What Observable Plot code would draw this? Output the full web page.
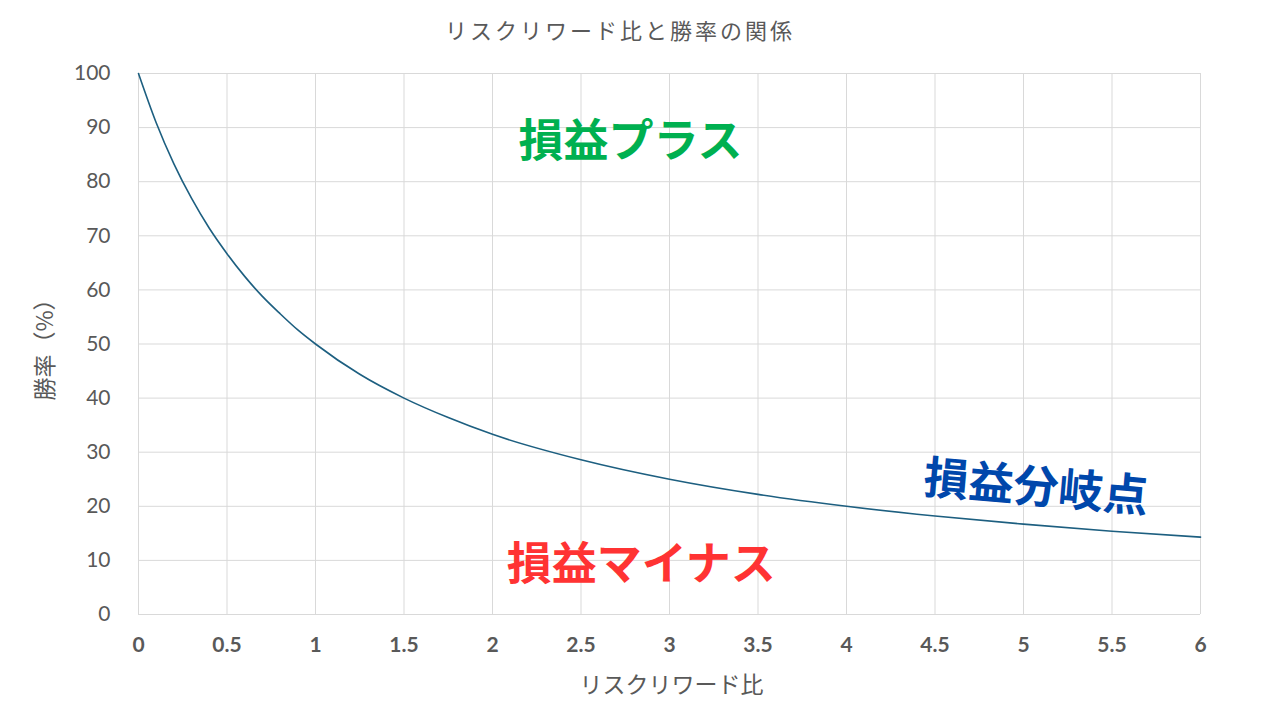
<!DOCTYPE html>
<html><head><meta charset="utf-8">
<script src="https://cdn.jsdelivr.net/npm/d3@7"></script>
<script src="https://cdn.jsdelivr.net/npm/@observablehq/plot@0.6"></script>
<style>
body{margin:0;background:#fff;width:1280px;height:720px;overflow:hidden;}
#title{height:52px;line-height:58px;text-align:center;padding-right:40px;font-family:"Noto Sans CJK JP",sans-serif;font-size:22px;letter-spacing:3px;color:#595959;}
</style></head>
<body>
<div id="title">リスクリワード比と勝率の関係</div>
<div id="chart"></div>
<script>
const ratio = [0,0.1,0.2,0.3,0.4,0.5,0.6,0.7,0.8,0.9,1,1.25,1.5,1.75,2,2.5,3,3.5,4,4.5,5,5.5,6];
const winRate = [100,90.9,83.3,76.9,71.4,66.7,62.5,58.8,55.6,52.6,50,44.4,40,36.4,33.3,28.6,25,22.2,20,18.2,16.7,15.4,14.3];
const xTicks = [0,0.5,1,1.5,2,2.5,3,3.5,4,4.5,5,5.5,6];
const yTicks = [0,10,20,30,40,50,60,70,80,90,100];
const xLabel = "リスクリワード比";
const yLabel = "勝率（%）";
const noteText = ["損益プラス","損益マイナス","損益分岐点"];
const noteX = [2.78,2.84,5.07];
const noteY = [87.2,9.1,23.3];
const noteColor = ["#00b050","#ff3333","#0047ab"];
const noteRotate = [0,0,5];

const data = ratio.map((x,i)=>({x, y: winRate[i]}));
const notes = noteText.map((t,i)=>({t, x: noteX[i], y: noteY[i], c: noteColor[i], r: noteRotate[i]}));
const cjk = '"Noto Sans CJK JP", sans-serif';

const chart = Plot.plot({
  width: 1280, height: 668,
  marginLeft: 138, marginRight: 80, marginTop: 21, marginBottom: 106,
  style: {fontFamily: "Lato, 'Noto Sans', sans-serif", fontSize: "21px", color: "#595959", background: "#fff"},
  x: {domain: [0,6]},
  y: {domain: [0,100]},
  marks: [
    Plot.gridX(xTicks, {stroke: "#d9d9d9", strokeOpacity: 1, strokeWidth: 1}),
    Plot.gridY(yTicks, {stroke: "#d9d9d9", strokeOpacity: 1, strokeWidth: 1}),
    Plot.axisX(xTicks, {tickSize: 0, tickPadding: 23, fontWeight: 700, tickFormat: d => String(d), label: null}),
    Plot.axisY(yTicks, {tickSize: 0, tickPadding: 28, label: null}),
    Plot.text([xLabel], {x: 3, y: 0, text: d => d, dy: 71, dx: 2, textAnchor: "middle", fontFamily: cjk, fontSize: 23, fill: "#595959", style: "letter-spacing:4px"}),
    Plot.text([yLabel], {x: 0, y: 50, text: d => d, dx: -93, rotate: -90, textAnchor: "middle", fontFamily: cjk, fontSize: 23, fill: "#595959", style: "letter-spacing:1px"}),
    Plot.line(data, {x: "x", y: "y", curve: "monotone-x", stroke: "#1d5f80", strokeWidth: 1.6}),
    Plot.text(notes, {x: "x", y: "y", text: "t", fill: "c", rotate: "r", fontSize: 45, fontWeight: 700, fontFamily: cjk})
  ]
});
document.getElementById("chart").appendChild(chart);
</script>
</body></html>
